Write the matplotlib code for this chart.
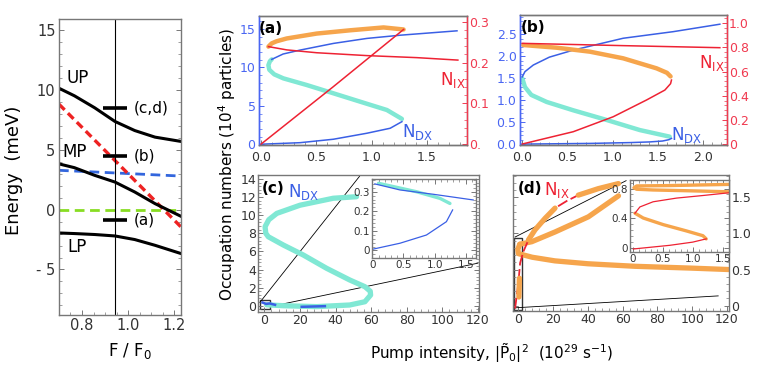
import numpy as np
import matplotlib.pyplot as plt
from matplotlib.ticker import AutoMinorLocator
from matplotlib.patches import Rectangle

# ---------------- data ----------------
# energy panel (F/F0, meV)
f_pol = [0.697, 0.767, 0.855, 0.943, 1.029, 1.117, 1.23]
e_up = [10.16, 9.5, 8.5, 7.36, 6.6, 6.05, 5.69]
e_mp = [3.83, 3.5, 2.86, 2.3, 1.47, 0.5, -0.56]
e_lp = [-1.95, -2.0, -2.08, -2.2, -2.5, -2.98, -3.67]
f_bare = [0.70, 1.23]
e_ix = [8.8, -1.45]
e_dx = [3.28, 2.8]
e_cav = [0.0, 0.0]
f_pump = 0.943
pump_levels = [-0.9, 4.5, 8.5]
pump_names = ["(a)", "(b)", "(c,d)"]

# panel (a)
a_dx_low_x = [0, 0.353, 0.655, 0.957, 1.168, 1.274]
a_dx_low_y = [0, 0.2, 0.65, 1.43, 2.08, 2.94]
a_dx_mid_x = [1.274, 1.138, 0.897, 0.655, 0.414, 0.202, 0.12, 0.075, 0.067, 0.08, 0.097]
a_dx_mid_y = [3.3, 4.46, 5.54, 6.63, 7.71, 8.58, 9.1, 9.7, 10.3, 10.8, 11.05]
a_dx_up_x = [0.097, 0.2, 0.353, 0.655, 0.957, 1.259, 1.772]
a_dx_up_y = [11.05, 11.75, 12.26, 13.13, 13.78, 14.2, 14.77]
a_ix_low_x = [0, 0.65, 1.289]
a_ix_low_y = [0, 0.14, 0.281]
a_ix_mid_x = [1.289, 1.108, 0.806, 0.504, 0.233, 0.14, 0.097, 0.067]
a_ix_mid_y = [0.281, 0.286, 0.279, 0.271, 0.259, 0.252, 0.247, 0.239]
a_ix_up_x = [0.067, 0.233, 0.504, 0.957, 1.41, 1.78]
a_ix_up_y = [0.239, 0.231, 0.224, 0.217, 0.212, 0.206]

# panel (b)
b_dx_low_x = [0, 0.748, 1.2, 1.41, 1.55, 1.62, 1.65]
b_dx_low_y = [0, 0.016, 0.035, 0.05, 0.07, 0.1, 0.13]
b_dx_mid_x = [1.63, 1.3, 0.933, 0.564, 0.27, 0.1, 0.03, 0.0]
b_dx_mid_y = [0.17, 0.32, 0.55, 0.77, 0.96, 1.12, 1.3, 1.5]
b_dx_up_x = [0.0, 0.03, 0.122, 0.3, 0.564, 1.116, 1.669, 2.185]
b_dx_up_y = [1.53, 1.65, 1.8, 1.98, 2.14, 2.41, 2.56, 2.73]
b_ix_low_x = [0, 0.564, 1.006, 1.375, 1.577, 1.64, 1.65]
b_ix_low_y = [0, 0.102, 0.226, 0.365, 0.447, 0.5, 0.53]
b_ix_mid_x = [1.64, 1.6, 1.485, 1.116, 0.748, 0.38, 0.011]
b_ix_mid_y = [0.56, 0.59, 0.627, 0.71, 0.765, 0.798, 0.82]
b_ix_up_x = [0.0, 1.116, 2.185]
b_ix_up_y = [0.834, 0.815, 0.798]

# panel (c)
c_dx_x = [51.8, 38.7, 20, 7, 2.5, 0.4, 0.8, 2.2, 10.7, 21.9, 35, 48, 56.5, 59.5, 59.7, 56.5, 48, 29.4, 10.7, 1.3]
c_dx_y = [12.04, 11.87, 11.1, 10.2, 9.5, 8.73, 8.0, 7.62, 6.7, 5.6, 4.13, 2.84, 2.1, 1.6, 1.18, 0.44, 0.08, -0.1, 0.0, 0.1]
c_blue1_x = [-1.0, 1.0, 3.0, 6.0]
c_blue1_y = [0.35, 0.2, 0.25, 0.1]
c_blue2_x = [21, 34]
c_blue2_y = [-0.12, -0.05]
c_box = [-2.4, -0.4, 5.6, 1.0]
c_link1_x = [-2.4, 53.5]
c_link1_y = [0.4, 14.3]
c_link2_x = [3.2, 120]
c_link2_y = [-0.1, 4.7]
# inset of (c)
ci_low_x = [0, 0.445, 0.87, 1.19, 1.29]
ci_low_y = [0.006, 0.037, 0.079, 0.147, 0.207]
ci_mid_x = [1.247, 1.087, 0.71, 0.1]
ci_mid_y = [0.24, 0.266, 0.30, 0.343]
ci_up_x = [0.04, 0.445, 0.98, 1.62]
ci_up_y = [0.34, 0.309, 0.287, 0.258]

# panel (d)
d_bot_x = [0.8, -0.3, 0, 8, 21, 40, 67, 99, 121]
d_bot_y = [0.85, 0.78, 0.72, 0.67, 0.62, 0.58, 0.545, 0.52, 0.50]
d_mid_x = [0.8, 7.7, 21.1, 40.3, 57.6]
d_mid_y = [0.85, 0.885, 1.02, 1.23, 1.52]
d_top_x = [-1.9, 0, 1.0, 2.9, 5.8, 9.6, 15.4, 21.1, 27.9, 34.5, 46, 57.6]
d_top_y = [-0.04, 0.31, 0.59, 0.75, 0.91, 1.05, 1.21, 1.35, 1.45, 1.53, 1.62, 1.69]
d_or1_x = [5.8, 9.6, 15.4, 21.1]
d_or1_y = [0.91, 1.05, 1.21, 1.35]
d_or2_x = [34.5, 46, 57.6]
d_or2_y = [1.53, 1.62, 1.69]
d_or3_x = [0.3, 0.6]
d_or3_y = [0.12, 0.38]
d_box = [-2.3, -0.06, 4.6, 0.99]
d_link1_x = [-1.9, 62]
d_link1_y = [0.95, 1.73]
d_link2_x = [-1.9, 115]
d_link2_y = [-0.03, 0.135]
# inset of (d)
di_low_x = [0.01, 0.62, 1.0, 1.225]
di_low_y = [-0.02, 0.03, 0.073, 0.117]
di_mid_x = [1.225, 1.17, 0.89, 0.51, 0.175, 0.038]
di_mid_y = [0.117, 0.16, 0.226, 0.31, 0.40, 0.465]
di_up_x = [0.038, 0.12, 0.34, 0.73, 1.17, 1.58, 1.65]
di_up_y = [0.465, 0.55, 0.62, 0.67, 0.705, 0.74, 0.745]
di_fold_x = [1.62, 1.53, 0.89, 0.34, 0.066, 0.02, 0.066, 0.62, 1.62]
di_fold_y = [0.755, 0.757, 0.77, 0.78, 0.79, 0.81, 0.835, 0.84, 0.856]

# ---------------- style ----------------
BLUE = "#3a5fe5"
RED = "#ee2233"
ORANGE = "#f6a54c"
CYAN = "#80e8d4"
TBLUE = "#4a66f2"
TRED = "#f03a50"
FRAME = "#777777"
TXT = "#333333"
THIN = 1.1
THICK = 3.2

plt.rcParams['font.family'] = 'DejaVu Sans'

fig = plt.figure(figsize=(7.64, 3.68), dpi=100)


def style_axes(ax, size=9):
    for s in ax.spines.values():
        s.set_color(FRAME)
        s.set_linewidth(1.0)
    ax.tick_params(direction='in', length=3.5, width=0.7, colors=FRAME, pad=1.5,
                   labelsize=size, labelcolor=TXT, top=False)
    ax.tick_params(which='minor', direction='in', length=2, width=0.5, colors=FRAME)
    ax.xaxis.set_minor_locator(AutoMinorLocator(5))
    ax.yaxis.set_minor_locator(AutoMinorLocator(5))


# ---- energy panel ----
ax0 = fig.add_axes([0.0772, 0.144, 0.1597, 0.804])
style_axes(ax0, 10.5)
ax0.tick_params(right=True, which='both')
ax0.tick_params(axis='both', pad=2.5)
ax0.set_xlim(0.70, 1.23)
ax0.set_ylim(-8.8, 15.9)
ax0.plot(f_bare, e_dx, color="#3366dd", lw=2.0, ls=(0, (3.5, 2)))
ax0.plot(f_bare, e_cav, color="#88dd22", lw=2.0, ls=(0, (3.5, 2)))
ax0.plot(f_bare, e_ix, color="#ee2222", lw=2.4, ls=(0, (2.4, 1.4)))
ax0.plot(f_pol, e_up, color='k', lw=2.2)
ax0.plot(f_pol, e_mp, color='k', lw=2.2)
ax0.plot(f_pol, e_lp, color='k', lw=2.2)
ax0.axvline(f_pump, color='k', lw=0.8)
ax0.hlines(pump_levels, 0.891, 0.997, color='k', lw=2.6)
for lev, name in zip(pump_levels, pump_names):
    ax0.text(1.025, lev, name, va='center', ha='left', fontsize=11)
ax0.text(0.78, 11.0, "UP", fontsize=12, ha='center', va='center')
ax0.text(0.767, 4.8, "MP", fontsize=12, ha='center', va='center')
ax0.text(0.78, -3.1, "LP", fontsize=12, ha='center', va='center')
ax0.set_xticks([0.8, 1.0, 1.2])
ax0.set_xticklabels(["0.8", "1.0", "1.2"])
ax0.set_yticks([-5, 0, 5, 10, 15])
ax0.set_yticklabels(["- 5", "0", "5", "10", "15"])
ax0.xaxis.set_minor_locator(AutoMinorLocator(4))
fig.text(0.018, 0.538, "Energy  (meV)", rotation=90, fontsize=13,
         ha='center', va='center')
fig.text(0.17, 0.045, "F / F$_0$", fontsize=12, ha='center', va='center')


def twin_panel(rect, xlim, ylim, ylim2):
    ax = fig.add_axes(rect)
    style_axes(ax)
    ax.tick_params(axis='x', pad=4.5)
    ax.set_xlim(*xlim)
    ax.set_ylim(*ylim)
    ax.spines['left'].set_color(TBLUE)
    ax.tick_params(axis='y', colors=TBLUE, labelcolor=TBLUE, which='both', pad=2.5)
    ax2 = ax.twinx()
    style_axes(ax2)
    ax2.set_ylim(*ylim2)
    ax2.spines['right'].set_color(TRED)
    ax2.spines['left'].set_color(TBLUE)
    ax2.tick_params(axis='y', colors=TRED, labelcolor=TRED, which='both')
    return ax, ax2


# ---- panel (a) ----
axa, axa2 = twin_panel([0.339, 0.606, 0.2719, 0.3505], (-0.018, 1.86),
                       (-0.1, 16.7), (-0.002, 0.314))
axa.plot(a_dx_mid_x, a_dx_mid_y, color=CYAN, lw=THICK, solid_capstyle='round')
axa.plot(a_dx_low_x, a_dx_low_y, color=BLUE, lw=THIN)
axa.plot(a_dx_up_x, a_dx_up_y, color=BLUE, lw=THIN)
axa2.plot(a_ix_mid_x, a_ix_mid_y, color=ORANGE, lw=THICK, solid_capstyle='round')
axa2.plot(a_ix_low_x, a_ix_low_y, color=RED, lw=THIN)
axa2.plot(a_ix_up_x, a_ix_up_y, color=RED, lw=THIN)
axa.set_xticks([0, 0.5, 1.0, 1.5])
axa.set_xticklabels(["0.0", "0.5", "1.0", "1.5"])
axa.set_yticks([0, 5, 10, 15])
axa2.set_yticks([0, 0.1, 0.2, 0.3])
axa2.set_yticklabels(["0.", "0.1", "0.2", "0.3"])
axa.text(0.055, 0.9, "(a)", transform=axa.transAxes, fontsize=11,
         fontweight='bold', ha='center', va='center')
axa.text(1.42, 1.6, "N$_{\\mathregular{DX}}$", color=BLUE, fontsize=12,
         ha='center', va='center')
axa.text(1.73, 8.4, "N$_{\\mathregular{IX}}$", color=RED, fontsize=12,
         ha='center', va='center')

# ---- panel (b) ----
axb, axb2 = twin_panel([0.6806, 0.606, 0.2705, 0.3533], (-0.025, 2.26),
                       (-0.02, 2.94), (-0.008, 1.069))
axb.plot(b_dx_mid_x, b_dx_mid_y, color=CYAN, lw=THICK, solid_capstyle='round')
axb.plot(b_dx_low_x, b_dx_low_y, color=BLUE, lw=THIN)
axb.plot(b_dx_up_x, b_dx_up_y, color=BLUE, lw=THIN)
axb2.plot(b_ix_mid_x, b_ix_mid_y, color=ORANGE, lw=THICK, solid_capstyle='round')
axb2.plot(b_ix_low_x, b_ix_low_y, color=RED, lw=THIN)
axb2.plot(b_ix_up_x, b_ix_up_y, color=RED, lw=THIN)
axb.set_xticks([0, 0.5, 1.0, 1.5, 2.0])
axb.set_xticklabels(["0.0", "0.5", "1.0", "1.5", "2.0"])
axb.set_yticks([0, 0.5, 1.0, 1.5, 2.0, 2.5])
axb.set_yticklabels(["0.0", "0.5", "1.0", "1.5", "2.0", "2.5"])
axb2.set_yticks([0, 0.2, 0.4, 0.6, 0.8, 1.0])
axb2.set_yticklabels(["0", "0.2", "0.4", "0.6", "0.8", "1.0"])
axb.text(0.065, 0.9, "(b)", transform=axb.transAxes, fontsize=11,
         fontweight='bold', ha='center', va='center')
axb.text(1.82, 0.2, "N$_{\\mathregular{DX}}$", color=BLUE, fontsize=12,
         ha='center', va='center')
axb.text(2.1, 1.84, "N$_{\\mathregular{IX}}$", color=RED, fontsize=12,
         ha='center', va='center')

# ---- panel (c) ----
axc = fig.add_axes([0.3381, 0.153, 0.2893, 0.3715])
style_axes(axc)
axc.tick_params(right=True, which='both')
axc.set_xlim(-3.4, 120.8)
axc.set_ylim(-0.66, 14.44)
axc.plot(c_link1_x, c_link1_y, color='k', lw=0.6)
axc.plot(c_link2_x, c_link2_y, color='k', lw=0.6)
axc.plot(c_dx_x, c_dx_y, color=CYAN, lw=3.8, solid_capstyle='round')
axc.plot(c_blue1_x, c_blue1_y, color=BLUE, lw=1.8)
axc.plot(c_blue2_x, c_blue2_y, color=BLUE, lw=1.8)
axc.add_patch(Rectangle((c_box[0], c_box[1]), c_box[2], c_box[3],
                        fill=False, ec='#333333', lw=1.0))
axc.set_xticks(range(0, 121, 20))
axc.set_yticks(range(0, 15, 2))
axc.text(0.065, 0.9, "(c)", transform=axc.transAxes, fontsize=11,
         fontweight='bold', ha='center', va='center')
axc.text(22, 12.6, "N$_{\\mathregular{DX}}$", color=BLUE, fontsize=12,
         ha='center', va='center')

axci = fig.add_axes([0.4865, 0.2997, 0.1365, 0.2139])
style_axes(axci, 7.5)
axci.tick_params(right=True, top=True, which='both')
axci.set_xlim(-0.01, 1.665)
axci.set_ylim(-0.037, 0.365)
axci.plot(ci_mid_x, ci_mid_y, color=CYAN, lw=2.4, solid_capstyle='round')
axci.plot(ci_low_x, ci_low_y, color=BLUE, lw=0.9)
axci.plot(ci_up_x, ci_up_y, color=BLUE, lw=0.9)
axci.set_xticks([0, 0.5, 1.0, 1.5])
axci.set_xticklabels(["0", "0.5", "1.0", "1.5"])
axci.set_yticks([0, 0.1, 0.2, 0.3])
axci.set_yticklabels(["0", "0.1", "0.2", "0.3"])

# ---- panel (d) ----
axd = fig.add_axes([0.6719, 0.1557, 0.2827, 0.3690])
style_axes(axd)
axd.yaxis.tick_right()
axd.tick_params(left=True, which='both')
axd.set_xlim(-2.9, 121.4)
axd.set_ylim(-0.07, 1.81)
axd.plot(d_link1_x, d_link1_y, color='k', lw=0.6)
axd.plot(d_link2_x, d_link2_y, color='k', lw=0.6)
axd.plot(d_bot_x, d_bot_y, color=ORANGE, lw=3.8, solid_capstyle='round')
axd.plot(d_mid_x, d_mid_y, color=ORANGE, lw=3.8, solid_capstyle='round')
axd.plot(d_top_x, d_top_y, color=RED, lw=1.3, ls=(0, (6, 2)))
axd.plot(d_or1_x, d_or1_y, color=ORANGE, lw=3.8, solid_capstyle='round')
axd.plot(d_or2_x, d_or2_y, color=ORANGE, lw=3.8, solid_capstyle='round')
axd.plot(d_or3_x, d_or3_y, color=ORANGE, lw=3.8, solid_capstyle='round')
axd.add_patch(Rectangle((d_box[0], d_box[1]), d_box[2], d_box[3],
                        fill=False, ec='#333333', lw=1.0))
axd.set_xticks(range(0, 121, 20))
axd.set_yticks([0, 0.5, 1.0, 1.5])
axd.set_yticklabels(["0", "0.5", "1.0", "1.5"])
axd.text(0.075, 0.9, "(d)", transform=axd.transAxes, fontsize=11,
         fontweight='bold', ha='center', va='center')
axd.text(22, 1.6, "N$_{\\mathregular{IX}}$", color=RED, fontsize=12,
         ha='center', va='center')

axdi = fig.add_axes([0.8246, 0.3160, 0.1300, 0.1948])
style_axes(axdi, 7.5)
axdi.tick_params(right=True, top=True, which='both')
axdi.set_xlim(-0.045, 1.61)
axdi.set_ylim(-0.057, 0.915)
axdi.plot(di_mid_x, di_mid_y, color=ORANGE, lw=2.4, solid_capstyle='round')
axdi.plot(di_fold_x, di_fold_y, color=ORANGE, lw=2.4, solid_capstyle='round')
axdi.plot(di_low_x, di_low_y, color=RED, lw=0.9)
axdi.plot(di_up_x, di_up_y, color=RED, lw=0.9)
axdi.set_xticks([0, 0.5, 1.0, 1.5])
axdi.set_xticklabels(["0", "0.5", "1.0", "1.5"])
axdi.set_yticks([0, 0.4, 0.8])
axdi.set_yticklabels(["0", "0.4", "0.8"])

# shared labels
fig.text(0.297, 0.554, "Occupation numbers (10$^4$ particles)", rotation=90,
         fontsize=11, ha='center', va='center')
fig.text(0.644, 0.04, "Pump intensity, |$\\tilde{\\mathregular{P}}_0$|$^2$  (10$^{29}$ s$^{-1}$)",
         fontsize=11, ha='center', va='center')

fig.savefig("out.png", dpi=100)
